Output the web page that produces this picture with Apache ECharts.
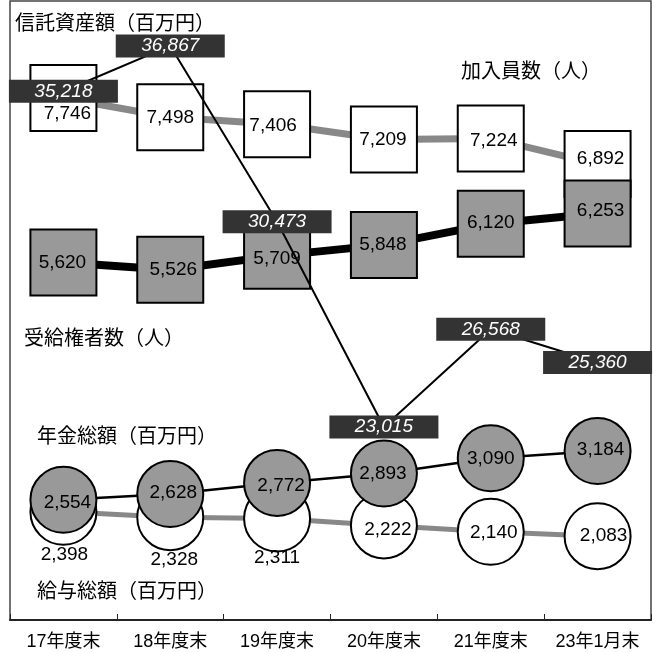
<!DOCTYPE html>
<html><head><meta charset="utf-8">
<script src="https://cdn.jsdelivr.net/npm/echarts@6/dist/echarts.min.js"></script>
<style>html,body{margin:0;padding:0;background:#fff}#c{width:654px;height:653px}</style>
</head><body><div id="c"></div>
<script>
// ---- data ----
const categories = ['17年度末', '18年度末', '19年度末', '20年度末', '21年度末', '23年1月末'];
const trustAssets = [35218, 36867, 30473, 23015, 26568, 25360];   // 信託資産額(百万円)
const members = [7746, 7498, 7406, 7209, 7224, 6892];             // 加入員数(人)
const recipients = [5620, 5526, 5709, 5848, 6120, 6253];          // 受給権者数(人)
const pensionTotal = [2554, 2628, 2772, 2893, 3090, 3184];        // 年金総額(百万円)
const salaryTotal = [2398, 2328, 2311, 2222, 2140, 2083];         // 給与総額(百万円)
const seriesTitles = ['信託資産額（百万円）', '加入員数（人）', '受給権者数（人）', '年金総額（百万円）', '給与総額（百万円）'];

// ---- label style tweaks (not data) ----
const memberOffsets = [[4, 16], [0, 1], [-4, 1], [-1, 0], [3, 2], [3, -5]];
const recipientOffsets = [[-1, 0], [3, 0], [0, 3], [-1, 0], [0, -1], [3, -3]];
const pensionOffsets = [[4, 3], [3, -1], [4, 3], [-1, 0], [0, 0], [3, -1]];
const salaryOffsets = [[1, 0], [4, 0], [0, -3], [4, 4], [3, 1], [6, 0]];
const salaryBelow = [true, true, true, false, false, false];

const NUM_FONT = "'Liberation Sans', Arial, 'Noto Sans CJK JP', sans-serif";
const JP_FONT = "'Noto Sans CJK JP', sans-serif";
const fmt = v => v.toLocaleString('en-US');

function items(values, offsets, extra) {
  return values.map((v, i) => {
    const lab = { offset: offsets[i] };
    if (extra) Object.assign(lab, extra(i));
    return { value: v, label: lab };
  });
}

const baseLabel = { show: true, position: 'inside', color: '#000', fontSize: 19, fontFamily: NUM_FONT, formatter: p => fmt(p.value) };

const option = {
  animation: false,
  backgroundColor: '#fff',
  grid: { left: 10, right: 3, top: 1, bottom: 33, show: true, borderColor: '#444', borderWidth: 1.5, containLabel: false },
  xAxis: {
    type: 'category', data: categories, boundaryGap: true,
    axisLine: { lineStyle: { color: '#222', width: 2 } },
    axisTick: { show: true, inside: true, length: 6, interval: 0, lineStyle: { color: '#222', width: 1 } },
    axisLabel: { color: '#000', fontSize: 18, margin: 13, interval: 0, fontFamily: NUM_FONT }
  },
  yAxis: [
    { type: 'value', min: 1000, max: 9000, show: false, splitLine: { show: false } },
    { type: 'value', min: 16000, max: 38500, show: false, splitLine: { show: false } }
  ],
  series: [
    {
      name: seriesTitles[1], type: 'line', yAxisIndex: 0, z: 2,
      data: items(members, memberOffsets),
      symbol: 'rect', symbolSize: 66,
      lineStyle: { color: '#888', width: 7 },
      itemStyle: { color: '#fff', borderColor: '#000', borderWidth: 2 },
      label: baseLabel
    },
    {
      name: seriesTitles[2], type: 'line', yAxisIndex: 0, z: 3,
      data: items(recipients, recipientOffsets),
      symbol: 'rect', symbolSize: 66,
      lineStyle: { color: '#000', width: 8 },
      itemStyle: { color: '#999', borderColor: '#000', borderWidth: 2 },
      label: baseLabel
    },
    {
      name: seriesTitles[4], type: 'line', yAxisIndex: 0, z: 2,
      data: items(salaryTotal, salaryOffsets, i => salaryBelow[i] ? { position: 'bottom', distance: -1 } : {}),
      symbol: 'circle', symbolSize: 66,
      lineStyle: { color: '#888', width: 5 },
      itemStyle: { color: '#fff', borderColor: '#000', borderWidth: 2 },
      label: baseLabel
    },
    {
      name: seriesTitles[3], type: 'line', yAxisIndex: 0, z: 3,
      data: items(pensionTotal, pensionOffsets),
      symbol: 'circle', symbolSize: 66,
      lineStyle: { color: '#000', width: 2.5 },
      itemStyle: { color: '#999', borderColor: '#000', borderWidth: 2 },
      label: baseLabel
    },
    {
      name: seriesTitles[0], type: 'line', yAxisIndex: 1, z: 10,
      data: trustAssets,
      symbol: 'rect', symbolSize: 1,
      lineStyle: { color: '#000', width: 2 },
      itemStyle: { color: 'rgba(0,0,0,0)' },
      label: {
        show: true, position: 'inside', color: '#fff', fontSize: 19, fontStyle: 'italic', fontFamily: NUM_FONT,
        backgroundColor: '#333', width: 109, height: 23, lineHeight: 23, padding: 0, align: 'center', verticalAlign: 'middle',
        formatter: p => fmt(p.value)
      }
    }
  ],
  graphic: [
    { type: 'text', left: 15, top: 12, style: { text: seriesTitles[0], fontSize: 20, fontFamily: JP_FONT, fill: '#000' } },
    { type: 'text', left: 461, top: 60, style: { text: seriesTitles[1], fontSize: 20, fontFamily: JP_FONT, fill: '#000' } },
    { type: 'text', left: 24, top: 327, style: { text: seriesTitles[2], fontSize: 20, fontFamily: JP_FONT, fill: '#000' } },
    { type: 'text', left: 37, top: 425, style: { text: seriesTitles[3], fontSize: 20, fontFamily: JP_FONT, fill: '#000' } },
    { type: 'text', left: 37, top: 580, style: { text: seriesTitles[4], fontSize: 20, fontFamily: JP_FONT, fill: '#000' } }
  ]
};

const chart = echarts.init(document.getElementById('c'), null, { renderer: 'canvas' });
chart.setOption(option);
</script>
</body></html>
